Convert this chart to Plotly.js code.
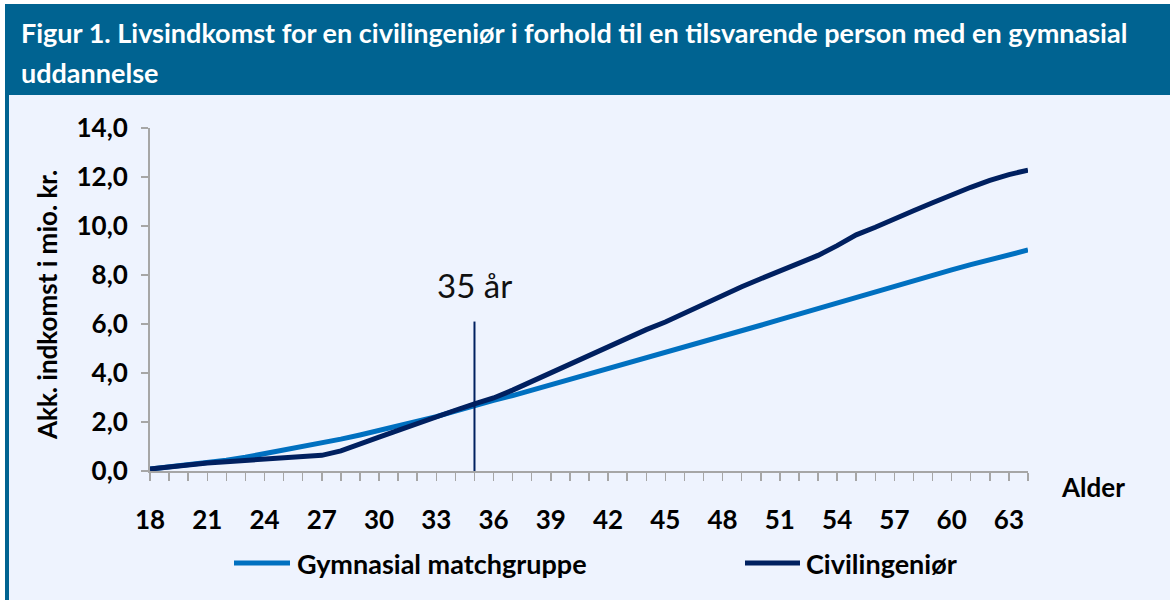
<!DOCTYPE html>
<html>
<head>
<meta charset="utf-8">
<script src="https://cdn.plot.ly/plotly-3.0.1.min.js"></script>
<style>
  html, body { margin: 0; padding: 0; background: #ffffff; }
  #chart { width: 1170px; height: 600px; }
</style>
</head>
<body>
<div id="chart"></div>
<script>
// ---- Data ----
const titleLine1 = "Figur 1. Livsindkomst for en civilingeniør i forhold til en tilsvarende person med en gymnasial";
const titleLine2 = "uddannelse";
const yAxisTitle = "Akk. indkomst i mio. kr.";
const xAxisTitle = "Alder";
const markerLabel = "35 år";
const markerAge = 35;
const markerTop = 6.1;

const ages = [18,19,20,21,22,23,24,25,26,27,28,29,30,31,32,33,34,35,36,37,38,39,40,41,
              42,43,44,45,46,47,48,49,50,51,52,53,54,55,56,57,58,59,60,61,62,63,64];

const seriesNames = ["Gymnasial matchgruppe", "Civilingeniør"];

const gymnasial = [0.08,0.16,0.24,0.33,0.44,0.56,0.70,0.84,0.98,1.14,1.30,1.47,1.65,1.83,2.02,2.22,
                   2.45,2.68,2.88,3.08,3.30,3.51,3.72,3.93,4.14,4.36,4.58,4.80,5.03,5.26,5.49,5.72,
                   5.95,6.18,6.41,6.64,6.87,7.09,7.31,7.54,7.77,7.99,8.21,8.42,8.63,8.83,9.02];

const civilingenior = [0.08,0.17,0.25,0.33,0.38,0.43,0.48,0.53,0.58,0.64,0.82,1.08,1.38,1.66,1.95,2.22,
                       2.48,2.74,2.98,3.30,3.65,4.02,4.38,4.75,5.10,5.43,5.77,6.08,6.45,6.80,7.15,7.52,
                       7.85,8.15,8.46,8.80,9.20,9.64,9.95,10.26,10.62,10.95,11.28,11.58,11.86,12.10,12.28];

const xTickVals = [18,21,24,27,30,33,36,39,42,45,48,51,54,57,60,63];
const yTickVals = [0,2,4,6,8,10,12,14];

// ---- Styling ----
const FONT = "Lato, 'Open Sans', sans-serif";
const BANNER = "#006391";
const BG = "#EEF3FE";
const LIGHT = "#0070C0";
const DARK = "#002060";
const AXIS = "#A6A6A6";

// Geometry (pixels)
const W = 1170, H = 600;
const mL = 150, mR = 142, mT = 128, mB = 129;
const pw = W - mL - mR, ph = H - mT - mB;
const px = x => (x - mL) / pw;           // pixel x -> paper x
const py = y => (H - mB - y) / ph;       // pixel y -> paper y

const traces = [
  { x: ages, y: gymnasial, name: seriesNames[0], type: "scatter", mode: "lines",
    line: { color: LIGHT, width: 5 }, hoverinfo: "skip" },
  { x: ages, y: civilingenior, name: seriesNames[1], type: "scatter", mode: "lines",
    line: { color: DARK, width: 5 }, hoverinfo: "skip" }
];

const legendItems = [
  { name: seriesNames[0], color: LIGHT, x0: 234, x1: 290, tx: 295 },
  { name: seriesNames[1], color: DARK, x0: 745, x1: 800, tx: 804 }
];
const legendY = 563;

const shapes = [
  // banner
  { type: "rect", xref: "paper", yref: "paper", x0: px(5), x1: px(1170), y0: py(95), y1: py(4),
    fillcolor: BANNER, line: { width: 0 }, layer: "below" },
  // left border bar
  { type: "rect", xref: "paper", yref: "paper", x0: px(5), x1: px(9), y0: py(600), y1: py(95),
    fillcolor: BANNER, line: { width: 0 }, layer: "below" },
  // light background panel
  { type: "rect", xref: "paper", yref: "paper", x0: px(9), x1: px(1170), y0: py(600), y1: py(95),
    fillcolor: BG, line: { width: 0 }, layer: "below" },
  // 35 år marker line
  { type: "line", xref: "x", yref: "y", x0: markerAge, x1: markerAge, y0: -0.16, y1: markerTop,
    line: { color: DARK, width: 2 } }
];
legendItems.forEach(it => {
  shapes.push({ type: "line", xref: "paper", yref: "paper", x0: px(it.x0), x1: px(it.x1),
    y0: py(legendY), y1: py(legendY), line: { color: it.color, width: 5 } });
});

const annotations = [
  { text: titleLine1, xref: "paper", yref: "paper", x: px(19), y: py(33), xanchor: "left", yanchor: "middle",
    showarrow: false, font: { family: FONT, size: 27, color: "#ffffff", weight: "bold" } },
  { text: titleLine2, xref: "paper", yref: "paper", x: px(19), y: py(72), xanchor: "left", yanchor: "middle",
    showarrow: false, font: { family: FONT, size: 27, color: "#ffffff", weight: "bold" } },
  { text: yAxisTitle, xref: "paper", yref: "paper", x: px(47), y: py(305), xanchor: "center", yanchor: "middle",
    textangle: -90, showarrow: false, font: { family: FONT, size: 26, color: "#000000", weight: "bold" } },
  { text: xAxisTitle, xref: "paper", yref: "paper", x: px(1059), y: py(487), xanchor: "left", yanchor: "middle",
    showarrow: false, font: { family: FONT, size: 26, color: "#000000", weight: "bold" } },
  { text: markerLabel, xref: "x", yref: "paper", x: markerAge, y: py(285), xanchor: "center", yanchor: "middle",
    showarrow: false, font: { family: FONT, size: 33, color: "#111111" } }
];
legendItems.forEach(it => {
  annotations.push({ text: it.name, xref: "paper", yref: "paper", x: px(it.tx), y: py(legendY),
    xanchor: "left", yanchor: "middle", showarrow: false,
    font: { family: FONT, size: 27, color: "#000000", weight: "bold" } });
});

const layout = {
  width: W, height: H,
  margin: { l: mL, r: mR, t: mT, b: mB, pad: 0 },
  paper_bgcolor: "#ffffff",
  plot_bgcolor: "rgba(0,0,0,0)",
  showlegend: false,
  separators: ",.",
  font: { family: FONT, color: "#000000" },
  xaxis: {
    range: [18, 64], tickvals: xTickVals, ticktext: xTickVals.map(String),
    showgrid: false, zeroline: false, showline: true, linecolor: AXIS, linewidth: 2,
    ticks: "outside", ticklen: 8, tickwidth: 1.5, tickcolor: AXIS,
    minor: { dtick: 1, tick0: 18, ticks: "outside", ticklen: 8, tickwidth: 1.5, tickcolor: AXIS, showgrid: false },
    tickfont: { family: FONT, size: 26, color: "#000000", weight: "bold" },
    ticklabelstandoff: 17, fixedrange: true
  },
  yaxis: {
    range: [0, 14], tickvals: yTickVals, tickformat: ".1f",
    showgrid: false, zeroline: false, showline: true, linecolor: AXIS, linewidth: 2,
    ticks: "outside", ticklen: 7, tickwidth: 1.5, tickcolor: AXIS,
    tickfont: { family: FONT, size: 26, color: "#000000", weight: "bold" },
    ticklabelstandoff: 8, fixedrange: true
  },
  shapes: shapes,
  annotations: annotations
};

Plotly.newPlot("chart", traces, layout, { displayModeBar: false, staticPlot: true });
</script>
</body>
</html>
